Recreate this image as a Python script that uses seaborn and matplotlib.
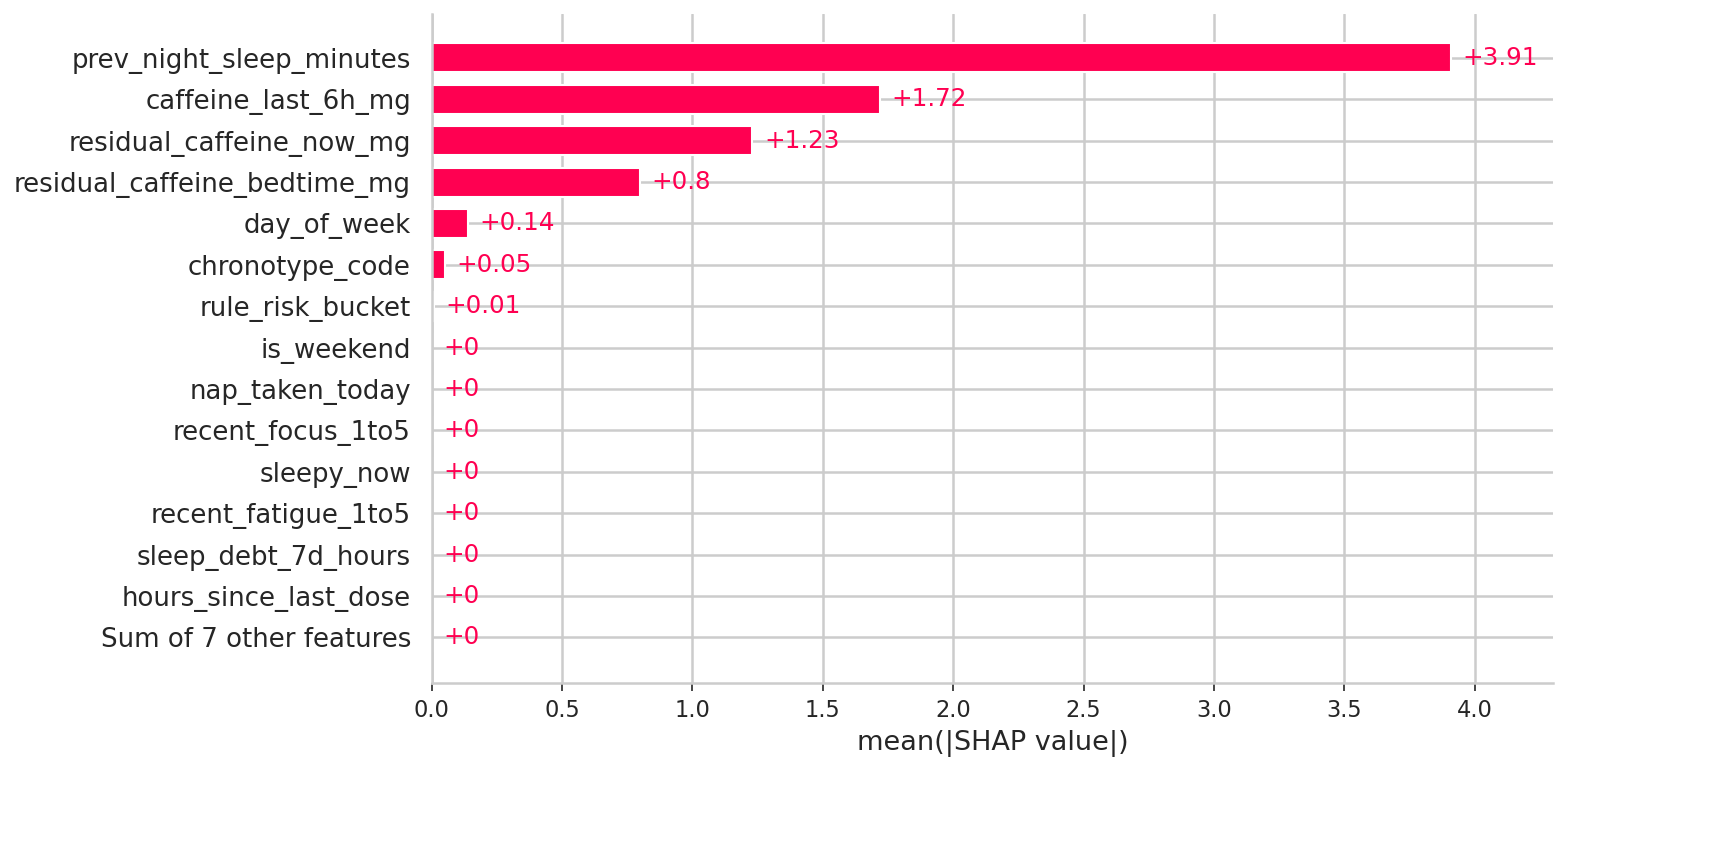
import numpy as np
import pandas as pd
import matplotlib
matplotlib.use('Agg')
import matplotlib.pyplot as plt
import seaborn as sns

sns.set_style('whitegrid')

features = ['prev_night_sleep_minutes', 'caffeine_last_6h_mg', 'residual_caffeine_now_mg',
            'residual_caffeine_bedtime_mg', 'day_of_week', 'chronotype_code', 'rule_risk_bucket',
            'is_weekend', 'nap_taken_today', 'recent_focus_1to5', 'sleepy_now',
            'recent_fatigue_1to5', 'sleep_debt_7d_hours', 'hours_since_last_dose',
            'Sum of 7 other features']
shap_means = [3.91, 1.72, 1.23, 0.80, 0.14, 0.05, 0.01, 0, 0, 0, 0, 0, 0, 0, 0]
value_labels = ['+3.91', '+1.72', '+1.23', '+0.8', '+0.14', '+0.05', '+0.01',
                '+0', '+0', '+0', '+0', '+0', '+0', '+0', '+0']

df = pd.DataFrame({'feature': features, 'value': shap_means})
red = '#ff0051'

fig = plt.figure(figsize=(11.56, 5.687), dpi=150)
ax = fig.add_axes([0.249, 0.1993, 0.6467, 0.7843])

sns.barplot(data=df, x='value', y='feature', orient='h', color=red,
            saturation=1, width=0.7, ax=ax)

for i, (v, lab) in enumerate(zip(shap_means, value_labels)):
    ax.annotate(lab, xy=(v, i), xytext=(5.5, 0), textcoords='offset points',
                ha='left', va='center', color=red, fontsize=11.8)

ax.set_xlim(0, max(shap_means) * 1.1)
ax.set_ylim(len(features) - 1 + 1.1, -1.06)
ax.set_xticks(np.arange(0, 4.01, 0.5))
ax.set_ylabel('')
ax.set_xlabel('mean(|SHAP value|)', fontsize=13, color='#262626')
ax.tick_params(axis='y', labelsize=12.5, length=0, pad=10)
ax.tick_params(axis='x', labelsize=10.8, bottom=True, length=4, color='#262626')
ax.grid(True, color='#cccccc', linewidth=1.2)
ax.set_axisbelow(True)
sns.despine(ax=ax, top=True, right=True)
for s in ['left', 'bottom']:
    ax.spines[s].set_color('#cccccc')
    ax.spines[s].set_linewidth(1.2)

fig.savefig('out.png', dpi=150)
